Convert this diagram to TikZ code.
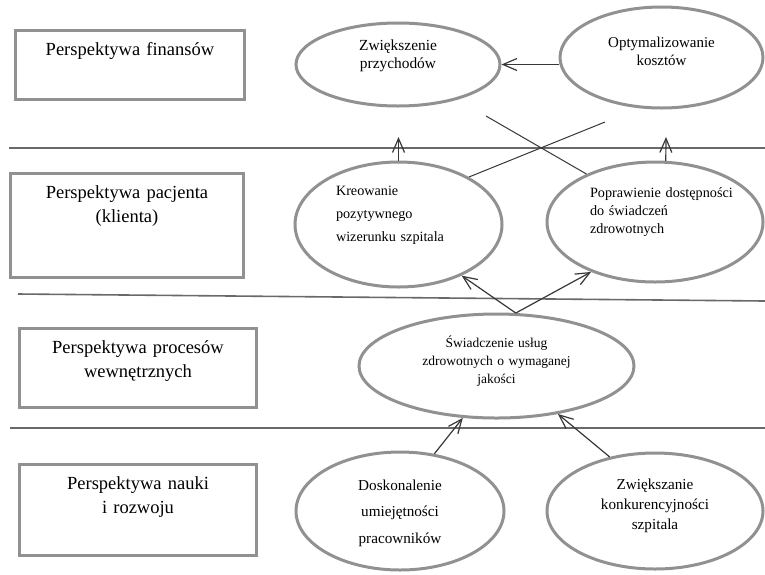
\documentclass[tikz,border=0pt]{standalone}
\usepackage{fontspec}
\setmainfont{Liberation Serif}
\usepackage{tikz}
\usetikzlibrary{arrows.meta,shapes.geometric}
\definecolor{ramka}{RGB}{145,145,145}
\definecolor{linia}{RGB}{105,105,105}
\definecolor{ciemny}{RGB}{55,55,55}

\begin{document}
\begin{tikzpicture}[x=0.5pt, y=-0.5pt, >={Straight Barb[length=7pt,width=6pt]},
  perspektywa/.style={draw=ramka, line width=1.5pt, rectangle, anchor=north west, inner sep=0pt, align=center, text height=12.5pt, font=\fontsize{9.25}{12}\selectfont},
  cel/.style={draw=ramka, line width=1.5pt, ellipse, inner sep=0pt, text height=0pt},
  strzalka/.style={->, draw=ciemny, line width=0.6pt},
  cienka/.style={draw=ciemny, line width=0.5pt}]
\useasboundingbox (0,0) rectangle (765,574);
% linie podzialu
\draw[linia, line width=0.8pt] (9,148) -- (765,148);
\draw[linia, line width=0.8pt] (18,294) -- (765,301);
\draw[linia, line width=0.8pt] (10,428) -- (765,428);
\draw
  node (finanse) at (14,29) [perspektywa, text width=114.5pt, text depth=22pt]{Perspektywa finansów}
  node (pacjent) at (9,172) [perspektywa, text width=116.5pt, text depth=39.5pt]{Perspektywa pacjenta \\ (klienta)}
  node (procesy) at (18,327) [perspektywa, text width=118.5pt, text depth=27pt]{Perspektywa procesów \\ wewnętrznych}
  node (nauka) at (18,463) [perspektywa, text width=118.5pt, text depth=33pt]{Perspektywa nauki \\ i rozwoju};
\draw
  node (przychody) at (398,64.5) [cel, minimum width=102pt, minimum height=41.5pt, text width=60pt, text depth=14.5pt, align=center, font=\fontsize{7.7}{9}\selectfont]{Zwiększenie \\ przychodów}
  node (koszty) at (661.5,57.5) [cel, minimum width=101.5pt, minimum height=50.5pt, text width=60pt, text depth=10.5pt, align=center, font=\fontsize{7.5}{9}\selectfont]{Optymalizowanie \\ kosztów}
  node (wizerunek) at (398.5,224.5) [cel, minimum width=103.5pt, minimum height=62.5pt, text width=62.5pt, text depth=29.5pt, align=left, font=\fontsize{7.1}{11.5}\selectfont]{Kreowanie \\ pozytywnego \\ wizerunku szpitala}
  node (dostepnosc) at (655,222) [cel, minimum width=108pt, minimum height=60pt, text width=65pt, text depth=25pt, align=left, font=\fontsize{7.1}{9}\selectfont]{\mbox{Poprawienie dostępności} \\ do świadczeń \\ zdrowotnych}
  node (uslugi) at (496.5,366) [cel, minimum width=137.5pt, minimum height=52pt, text width=76pt, text depth=19pt, align=center, font=\fontsize{6.75}{9}\selectfont]{Świadczenie usług \\ zdrowotnych o wymaganej \\ jakości}
  node (umiejetnosci) at (400,511) [cel, minimum width=104pt, minimum height=59pt, text width=60pt, text depth=21pt, align=center, font=\fontsize{7.6}{13.25}\selectfont]{Doskonalenie \\ umiejętności \\ pracowników}
  node (konkurencja) at (655,511) [cel, minimum width=108pt, minimum height=58pt, text width=60pt, text depth=22pt, align=center, font=\fontsize{7.6}{10}\selectfont]{Zwiększanie \\ konkurencyjności \\ szpitala};
\coordinate (celL) at (398.5,137);
\coordinate (celR) at (666,137);
\coordinate (krzyzA) at (486,116);
\coordinate (krzyzB) at (605,122);
\draw[strzalka] (koszty.west |- przychody.east) -- (przychody.east);
\draw[strzalka] (wizerunek.north) -- (celL);
\draw[strzalka] (dostepnosc.80) -- (celR);
\draw[cienka] (krzyzA) -- (dostepnosc.145);
\draw[cienka] (krzyzB) -- (wizerunek.34);
\draw[strzalka] (uslugi.70) -- (wizerunek.321);
\draw[strzalka] (uslugi.70) -- (dostepnosc.218);
\draw[strzalka] (umiejetnosci.59) -- (uslugi.237);
\draw[strzalka] (konkurencja.130) -- (uslugi.322);
\end{tikzpicture}
\end{document}
